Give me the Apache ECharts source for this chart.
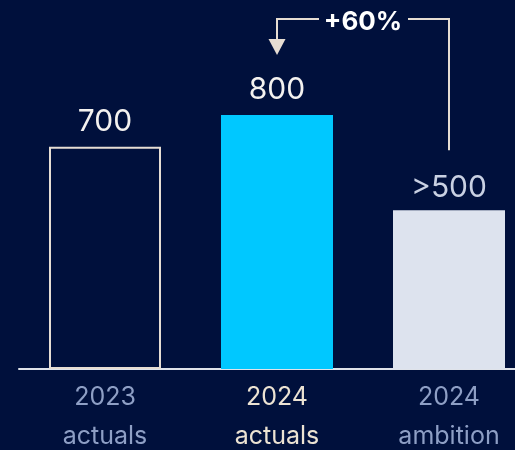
<!DOCTYPE html>
<html>
<head>
<meta charset="utf-8">
<script src="https://cdn.jsdelivr.net/npm/echarts@6/dist/echarts.min.js"></script>
<style>
html,body{margin:0;padding:0;background:#00103c;}
#c{width:515px;height:450px;}
</style>
</head>
<body>
<div id="c"></div>
<script>
const categories = ['2023\nactuals', '2024\nactuals', '2024\nambition'];
const values = [700, 800, 500];
const valueLabels = ['700', '800', '>500'];
const growthLabel = '+60%';

const FONT = 'Inter, "Noto Sans", sans-serif';
const chart = echarts.init(document.getElementById('c'), null, {renderer: 'canvas'});

const barStyles = [
  {color: 'rgba(0,0,0,0)', borderColor: '#e6ddd3', borderWidth: 2},
  {color: '#00c8ff'},
  {color: '#dde3ee'}
];
const labelColors = ['#f4f2f0', '#f4f2f0', '#c9d1e3'];
const labelDist = [10, 10, 7];
const axisColors = ['#8e9fc5', '#ece3d3', '#8e9fc5'];

chart.setOption({
  backgroundColor: '#00103c',
  animation: false,
  grid: {left: 19, right: -20, top: 51.5, bottom: 81, containLabel: false, outerBoundsMode: 'none'},
  xAxis: {
    type: 'category',
    data: categories.map((c, i) => ({value: c, textStyle: {color: axisColors[i]}})),
    axisLine: {lineStyle: {color: '#dfe3ea', width: 2}},
    axisTick: {show: false},
    axisLabel: {fontFamily: FONT, fontSize: 25, lineHeight: 39, margin: 9, interval: 0}
  },
  yAxis: {
    type: 'value', min: 0, max: 1000,
    show: false, splitLine: {show: false}
  },
  series: [{
    type: 'bar',
    barWidth: 112,
    data: values.map((v, i) => ({
      value: v,
      itemStyle: barStyles[i],
      label: {
        show: true, position: 'top', distance: labelDist[i],
        formatter: valueLabels[i], color: labelColors[i],
        fontFamily: FONT, fontSize: 30
      }
    }))
  }]
});

// Annotation arrow (+60%) from ambition bar to 2024 actuals bar
const p1 = chart.convertToPixel({seriesIndex: 0}, [1, values[1]]);
const p2 = chart.convertToPixel({seriesIndex: 0}, [2, values[2]]);
const topY = 19;
const lineColor = '#e6ddd3';
const midX = (p1[0] + p2[0]) / 2;
chart.setOption({
  graphic: [
    {type: 'polyline', shape: {points: [[p2[0], p2[1] - 60], [p2[0], topY], [midX + 45, topY]]},
     style: {stroke: lineColor, lineWidth: 2, fill: null}},
    {type: 'polyline', shape: {points: [[midX - 44, topY], [p1[0], topY], [p1[0], p1[1] - 75]]},
     style: {stroke: lineColor, lineWidth: 2, fill: null}},
    {type: 'polygon', shape: {points: [[p1[0] - 8.5, p1[1] - 76], [p1[0] + 8.5, p1[1] - 76], [p1[0], p1[1] - 60]]},
     style: {fill: lineColor}},
    {type: 'text', x: midX, y: topY + 3, style: {text: growthLabel, fill: '#ffffff', font: 'bold 26px ' + FONT, align: 'center', verticalAlign: 'middle'}}
  ]
});
</script>
</body>
</html>
